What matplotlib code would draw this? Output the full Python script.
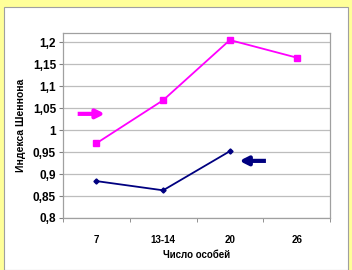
import matplotlib.pyplot as plt
from matplotlib.patches import Rectangle

# data
categories = ['7', '13-14', '20', '26']
pink_vals = [0.97, 1.068, 1.205, 1.165]
navy_vals = [0.884, 0.863, 0.952]
y_ticks = [0.8, 0.85, 0.9, 0.95, 1.0, 1.05, 1.1, 1.15, 1.2]
y_tick_labels = ['0,8', '0,85', '0,9', '0,95', '1', '1,05', '1,1', '1,15', '1,2']

plt.rcParams['font.family'] = ['Liberation Sans', 'DejaVu Sans']

fig = plt.figure(figsize=(3.52, 2.70), dpi=100, facecolor='#FFFF99')

# white panel behind the axes
fig.patches.append(Rectangle((4 / 352, 0), 344 / 352, 263 / 270,
                             transform=fig.transFigure, facecolor='white',
                             edgecolor='#A0A0A0', linewidth=0.8, zorder=-5))

ax = fig.add_axes([63 / 352, 52 / 270, 267 / 352, 185 / 270])
ax.set_facecolor('white')

x = list(range(len(categories)))
ax.plot(x, pink_vals, color='#FF00FF', lw=1.3, marker='s', ms=4.5, zorder=3)
ax.plot(x[:len(navy_vals)], navy_vals, color='#000080', lw=1.3,
        marker='D', ms=2.6, zorder=3)

# arrows
arrow_style = '-|>,head_width=0.25,head_length=0.5'
ax.annotate('', xy=(0.13, 1.037), xytext=(-0.28, 1.037),
            arrowprops=dict(arrowstyle=arrow_style, lw=3, color='#FF00FF',
                            shrinkA=0, shrinkB=0, capstyle='butt'))
ax.annotate('', xy=(2.14, 0.93), xytext=(2.54, 0.93),
            arrowprops=dict(arrowstyle=arrow_style, lw=3, color='#000080',
                            shrinkA=0, shrinkB=0, capstyle='butt'))

ax.set_xlim(-0.5, 3.5)
ax.set_ylim(0.8, 1.221)
ax.set_yticks(y_ticks)
ax.set_yticklabels(y_tick_labels, fontsize=8.5, fontweight='bold')
ax.set_xticks(x)
ax.set_xticklabels(categories, fontsize=7, fontweight='bold')
ax.set_xticks([-0.5, 0.5, 1.5, 2.5, 3.5], minor=True)
ax.tick_params(axis='x', which='major', length=0, pad=12)
ax.tick_params(axis='x', which='minor', length=3, color='#808080')
ax.tick_params(axis='y', length=3, color='#808080', pad=2)
ax.grid(axis='y', color='#BDBDBD', lw=0.9)
for s in ax.spines.values():
    s.set_color('#A0A0A0')
    s.set_linewidth(0.9)

ax.set_xlabel('Число особей', fontsize=7, fontweight='bold', labelpad=4)
ax.set_ylabel('Индекса Шеннона', fontsize=7.5, fontweight='bold', labelpad=5)

fig.savefig('out.png', dpi=100, facecolor=fig.get_facecolor())
